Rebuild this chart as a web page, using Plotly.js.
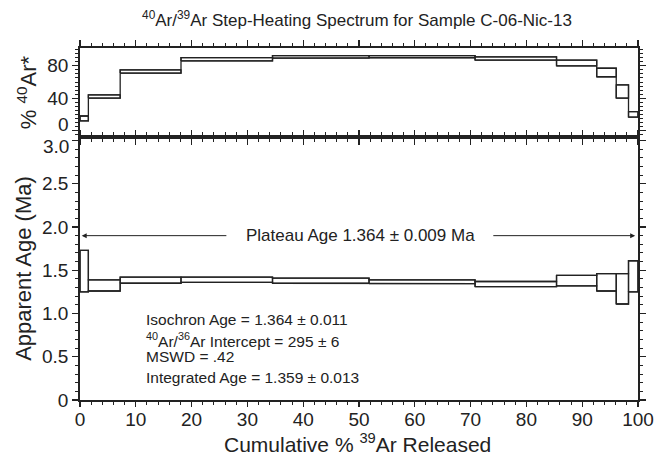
<!DOCTYPE html>
<html>
<head>
<meta charset="utf-8">
<script src="https://cdn.plot.ly/plotly-3.0.1.min.js"></script>
<style>html,body{margin:0;padding:0;background:#fff;}#chart{width:655px;height:458px;}</style>
</head>
<body>
<div id="chart"></div>
<script>
// Step boundaries: cumulative % 39Ar released
const cumulative = [0, 1.5, 7.2, 18.1, 34.5, 51.8, 70.8, 85.4, 92.6, 96.1, 98.3, 100];
// Apparent age (Ma), lower and upper bounds per step
const ageLow  = [1.25, 1.26, 1.35, 1.36, 1.35, 1.345, 1.31, 1.32, 1.26, 1.11, 1.25];
const ageHigh = [1.73, 1.39, 1.42, 1.42, 1.41, 1.39, 1.37, 1.44, 1.46, 1.46, 1.61];
// % 40Ar* radiogenic, lower and upper bounds per step
const radLow  = [12, 40, 71, 86, 89.5, 90, 87, 80, 66.5, 40, 16.5];
const radHigh = [18, 44, 75, 90, 92.5, 92.5, 91, 87, 77, 56.5, 23.5];
// Plateau
const plateauAge = 1.9;      // y position of plateau arrow
const plateauStart = 0.3, plateauEnd = 99.5;
const plateauText = "Plateau Age 1.364 ± 0.009 Ma";
const infoLines = [
  "Isochron Age = 1.364 ± 0.011",
  "<sup>40</sup>Ar/<sup>36</sup>Ar Intercept = 295 ± 6",
  "MSWD = .42",
  "Integrated Age = 1.359 ± 0.013"
];
const infoY = [0.93, 0.695, 0.50, 0.26];
const xTicks = [0,10,20,30,40,50,60,70,80,90,100];
const ageTicks = [0, 0.5, 1.0, 1.5, 2.0, 2.5, 3.0];
const ageTickText = ["0", "0.5", "1.0", "1.5", "2.0", "2.5", ""];
const radTicks = [0, 40, 80];
const radTickText = ["", "40", "80"];

// Each step drawn as a box, plus the outline of the whole staircase band
function spectrum(lo, hi) {
  const xs = [], ys = [];
  for (let i = 0; i < lo.length; i++) {
    const x0 = cumulative[i], x1 = cumulative[i+1];
    xs.push(x0, x0, x1, x1, x0, null);
    ys.push(lo[i], hi[i], hi[i], lo[i], lo[i], null);
  }
  xs.push(cumulative[0]); ys.push(lo[0]);
  for (let i = 0; i < hi.length; i++) { xs.push(cumulative[i], cumulative[i+1]); ys.push(hi[i], hi[i]); }
  for (let i = lo.length - 1; i >= 0; i--) { xs.push(cumulative[i+1], cumulative[i]); ys.push(lo[i], lo[i]); }
  return {xs, ys};
}
const ageB = spectrum(ageLow, ageHigh);
const radB = spectrum(radLow, radHigh);
const ink = "#222";
const font = "Liberation Sans, Arial, Helvetica, sans-serif";

const traces = [
  {x: ageB.xs, y: ageB.ys, xaxis: 'x', yaxis: 'y', mode: 'lines', line: {color: ink, width: 1.3}, connectgaps: false, hoverinfo: 'skip'},
  {x: radB.xs, y: radB.ys, xaxis: 'x2', yaxis: 'y2', mode: 'lines', line: {color: ink, width: 1.3}, connectgaps: false, hoverinfo: 'skip'}
];

const axisCommon = {
  showline: true, linecolor: ink, linewidth: 1.8, mirror: 'allticks',
  ticks: 'outside', ticklen: 6, tickwidth: 1.3, tickcolor: ink,
  showgrid: false, zeroline: false,
  tickfont: {family: font, size: 19, color: ink}
};

const annotations = [
  {xref: 'x', yref: 'y', x: plateauStart, y: plateauAge, ax: 26.5, ay: plateauAge, axref: 'x', ayref: 'y',
   showarrow: true, arrowhead: 2, arrowsize: 1, arrowwidth: 1, arrowcolor: ink, text: ''},
  {xref: 'x', yref: 'y', x: plateauEnd, y: plateauAge, ax: 73.8, ay: plateauAge, axref: 'x', ayref: 'y',
   showarrow: true, arrowhead: 2, arrowsize: 1, arrowwidth: 1, arrowcolor: ink, text: ''},
  {xref: 'x', yref: 'y', x: 50.2, y: plateauAge, text: plateauText, showarrow: false,
   font: {family: font, size: 17, color: ink}, xanchor: 'center', yanchor: 'middle'},
  // "0" label of the upper axis, nudged up as in the reference
  {xref: 'paper', yref: 'y2', x: 0, xshift: -9, y: radTicks[0], yshift: 6, text: "0", showarrow: false,
   xanchor: 'right', yanchor: 'middle', font: {family: font, size: 19, color: ink}},
  // "3.0" label of the lower axis, nudged down as in the reference
  {xref: 'paper', yref: 'y', x: 0, xshift: -9, y: ageTicks[6], yshift: -6, text: "3.0", showarrow: false,
   xanchor: 'right', yanchor: 'middle', font: {family: font, size: 19, color: ink}},
  // x-axis title
  {xref: 'paper', yref: 'paper', x: 0.497, y: -0.122, text: "Cumulative % <sup>39</sup>Ar Released", showarrow: false,
   xanchor: 'center', yanchor: 'middle', borderpad: 0, font: {family: font, size: 21, color: ink}}
];
infoLines.forEach((t, i) => annotations.push({
  xref: 'x', yref: 'y', x: 11.5, y: infoY[i], text: t, showarrow: false, xanchor: 'left', yanchor: 'middle',
  font: {family: font, size: 15.5, color: ink}
}));

const layout = {
  width: 655, height: 458,
  margin: {l: 80, r: 17, t: 48, b: 58},
  paper_bgcolor: '#fff', plot_bgcolor: '#fff',
  showlegend: false,
  font: {family: font, color: ink},
  title: {text: "<sup>40</sup>Ar/<sup>39</sup>Ar Step-Heating Spectrum for Sample C-06-Nic-13",
          font: {family: font, size: 17, color: ink}, x: 0.545, xanchor: 'center', y: 0.957, yanchor: 'middle'},
  xaxis: Object.assign({}, axisCommon, {
    domain: [0, 1], range: [0, 100], anchor: 'y', tickvals: xTicks, ticklen: 5, ticklabelstandoff: -4,
    minor: {dtick: 2, ticklen: 3, tickwidth: 1, tickcolor: ink, ticks: 'outside'}
  }),
  yaxis: Object.assign({}, axisCommon, {
    domain: [0, 0.747], range: [0, 3.04], anchor: 'x', tickvals: ageTicks, ticktext: ageTickText,
    minor: {dtick: 0.1, ticklen: 3.5, tickwidth: 1, tickcolor: ink, ticks: 'outside'},
    title: {text: "Apparent Age (Ma)", font: {family: font, size: 22, color: ink}, standoff: 4}
  }),
  xaxis2: Object.assign({}, axisCommon, {
    domain: [0, 1], range: [0, 100], anchor: 'y2', tickvals: xTicks, showticklabels: false,
    minor: {dtick: 2, ticklen: 3.5, tickwidth: 1, tickcolor: ink, ticks: 'outside'}
  }),
  yaxis2: Object.assign({}, axisCommon, {
    domain: [0.747, 1], range: [-8, 102], anchor: 'x2', tickvals: radTicks, ticktext: radTickText,
    minor: {dtick: 5, ticklen: 3.5, tickwidth: 1, tickcolor: ink, ticks: 'outside'},
    title: {text: "% <sup>40</sup>Ar*", font: {family: font, size: 22, color: ink}, standoff: 4}
  }),
  annotations: annotations
};

Plotly.newPlot('chart', traces, layout, {staticPlot: true, displayModeBar: false});
</script>
</body>
</html>
